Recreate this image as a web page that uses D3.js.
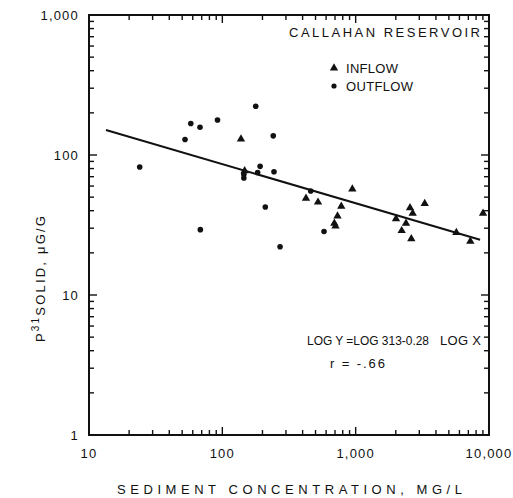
<!DOCTYPE html>
<html>
<head>
<meta charset="utf-8">
<script src="https://cdn.jsdelivr.net/npm/d3@7"></script>
<style>
  body { margin: 0; background: #fff; }
  text { font-family: "Liberation Sans", Arial, sans-serif; fill: #111; }
</style>
</head>
<body>
<script>
// inflow samples: sediment concentration (mg/L), P31 solid (ug/g)
var inflowX = [138, 147, 424, 522, 944, 780, 731, 692, 706, 2007, 2556, 2677, 3295, 2385, 2214, 2614, 5689, 7244, 9020];
var inflowY = [130, 77, 49, 46, 57, 43, 36.6, 32.5, 31, 35, 42, 38.3, 45, 32.5, 28.8, 25.2, 27.9, 24.2, 38.3];

// outflow samples
var outflowX = [24, 52.5, 58, 68, 92, 178, 241, 192, 184, 244, 145, 145, 68.4, 210, 271, 460, 579];
var outflowY = [82, 129, 168, 158, 178, 223, 137, 83, 75, 76, 73, 68.5, 29.3, 42.5, 22.1, 55.3, 28.4];

// regression line end points, as drawn
var fitX = [13.4, 8570];
var fitY = [151, 24.8];

var xTicks = [10, 100, 1000, 10000];
var xTickLabels = ["10", "100", "1,000", "10,000"];
var yTicks = [1, 10, 100, 1000];
var yTickLabels = ["1", "10", "100", "1,000"];

var svg = d3.select("body")
    .append("svg")
    .attr("width", 513)
    .attr("height", 498);

var x = d3.scaleLog().domain([10, 10000]).range([89, 489]);
var y = d3.scaleLog().domain([1, 1000]).range([435, 15]);

// minor + major tick values for every decade
function logTicks(lo, hi) {
    var out = [];
    for (var d = lo; d < hi; d *= 10) {
        for (var k = 1; k < 10; k++) out.push(d * k);
    }
    out.push(hi);
    return out;
}
var xAll = logTicks(10, 10000);
var yAll = logTicks(1, 1000);

function tickLen(v) {
    var l = Math.log10(v);
    return Math.abs(l - Math.round(l)) < 1e-9 ? 8 : 5;
}

var ticks = svg.append("g")
    .attr("stroke", "#111")
    .attr("stroke-width", 1.4);

// bottom and top, pointing inward
ticks.selectAll("line.xb")
    .data(xAll)
    .enter()
    .append("line")
    .attr("class", "xb")
    .attr("x1", function(d) { return x(d); })
    .attr("x2", function(d) { return x(d); })
    .attr("y1", y(1))
    .attr("y2", function(d) { return y(1) - tickLen(d); });
ticks.selectAll("line.xt")
    .data(xAll)
    .enter()
    .append("line")
    .attr("class", "xt")
    .attr("x1", function(d) { return x(d); })
    .attr("x2", function(d) { return x(d); })
    .attr("y1", y(1000))
    .attr("y2", function(d) { return y(1000) + tickLen(d); });
// left and right
ticks.selectAll("line.yl")
    .data(yAll)
    .enter()
    .append("line")
    .attr("class", "yl")
    .attr("y1", function(d) { return y(d); })
    .attr("y2", function(d) { return y(d); })
    .attr("x1", x(10))
    .attr("x2", function(d) { return x(10) + tickLen(d); });
ticks.selectAll("line.yr")
    .data(yAll)
    .enter()
    .append("line")
    .attr("class", "yr")
    .attr("y1", function(d) { return y(d); })
    .attr("y2", function(d) { return y(d); })
    .attr("x1", x(10000))
    .attr("x2", function(d) { return x(10000) - tickLen(d); });

// frame
svg.append("rect")
    .attr("x", x(10))
    .attr("y", y(1000))
    .attr("width", x(10000) - x(10))
    .attr("height", y(1) - y(1000))
    .attr("fill", "none")
    .attr("stroke", "#111")
    .attr("stroke-width", 2);

// tick labels
svg.selectAll("text.xlab")
    .data(xTicks)
    .enter()
    .append("text")
    .attr("class", "xlab")
    .text(function(d, i) { return xTickLabels[i]; })
    .attr("x", function(d) { return x(d); })
    .attr("y", 458)
    .attr("text-anchor", "middle")
    .attr("font-size", "13px")
    .attr("letter-spacing", "1.2px");

svg.selectAll("text.ylab")
    .data(yTicks)
    .enter()
    .append("text")
    .attr("class", "ylab")
    .text(function(d, i) { return yTickLabels[i]; })
    .attr("x", 79)
    .attr("y", function(d) { return y(d) + 5; })
    .attr("text-anchor", "end")
    .attr("font-size", "13px")
    .attr("letter-spacing", "1.2px");

// axis titles
svg.append("text")
    .text("SEDIMENT CONCENTRATION, MG/L")
    .attr("x", 117)
    .attr("y", 494)
    .attr("font-size", "13px")
    .attr("textLength", 345)
    .attr("lengthAdjust", "spacing");

var ytitle = svg.append("text")
    .attr("transform", "translate(45,278) rotate(-90)")
    .attr("text-anchor", "middle")
    .attr("font-size", "13px")
    .attr("letter-spacing", "2.2px");
ytitle.append("tspan").text("P");
ytitle.append("tspan").text("31").attr("dy", -6).attr("font-size", "10px");
ytitle.append("tspan").text("SOLID, \u03BCG/G").attr("dy", 6);

// regression line
svg.append("line")
    .attr("x1", x(fitX[0])).attr("y1", y(fitY[0]))
    .attr("x2", x(fitX[1])).attr("y2", y(fitY[1]))
    .attr("stroke", "#111")
    .attr("stroke-width", 2);

// points
svg.selectAll("circle.out")
    .data(outflowX)
    .enter()
    .append("circle")
    .attr("class", "out")
    .attr("cx", function(d) { return x(d); })
    .attr("cy", function(d, i) { return y(outflowY[i]); })
    .attr("r", 2.8)
    .attr("fill", "#111");

var tri = d3.symbol().type(d3.symbolTriangle).size(30);
svg.selectAll("path.in")
    .data(inflowX)
    .enter()
    .append("path")
    .attr("class", "in")
    .attr("d", tri)
    .attr("transform", function(d, i) {
        return "translate(" + x(d) + "," + y(inflowY[i]) + ")";
    })
    .attr("fill", "#111");

// annotations
svg.append("text")
    .text("CALLAHAN RESERVOIR")
    .attr("x", 289).attr("y", 37)
    .attr("font-size", "13px")
    .attr("textLength", 191)
    .attr("lengthAdjust", "spacing");

svg.append("path")
    .attr("d", tri)
    .attr("transform", "translate(334,68)")
    .attr("fill", "#111");
svg.append("text")
    .text("INFLOW")
    .attr("x", 346).attr("y", 73)
    .attr("font-size", "13px")
    .attr("textLength", 52)
    .attr("lengthAdjust", "spacing");

svg.append("circle")
    .attr("cx", 334).attr("cy", 86)
    .attr("r", 2.6)
    .attr("fill", "#111");
svg.append("text")
    .text("OUTFLOW")
    .attr("x", 346).attr("y", 91)
    .attr("font-size", "13px")
    .attr("textLength", 67)
    .attr("lengthAdjust", "spacing");

svg.append("text")
    .text("LOG Y =LOG 313-0.28")
    .attr("x", 307).attr("y", 345)
    .attr("font-size", "12.5px")
    .attr("textLength", 122)
    .attr("lengthAdjust", "spacingAndGlyphs");
svg.append("text")
    .text("LOG X")
    .attr("x", 440).attr("y", 345)
    .attr("font-size", "13px")
    .attr("textLength", 41)
    .attr("lengthAdjust", "spacing");

svg.append("text")
    .text("r = -.66")
    .attr("x", 330).attr("y", 368)
    .attr("font-size", "13px")
    .attr("textLength", 55)
    .attr("lengthAdjust", "spacing");
</script>
</body>
</html>
